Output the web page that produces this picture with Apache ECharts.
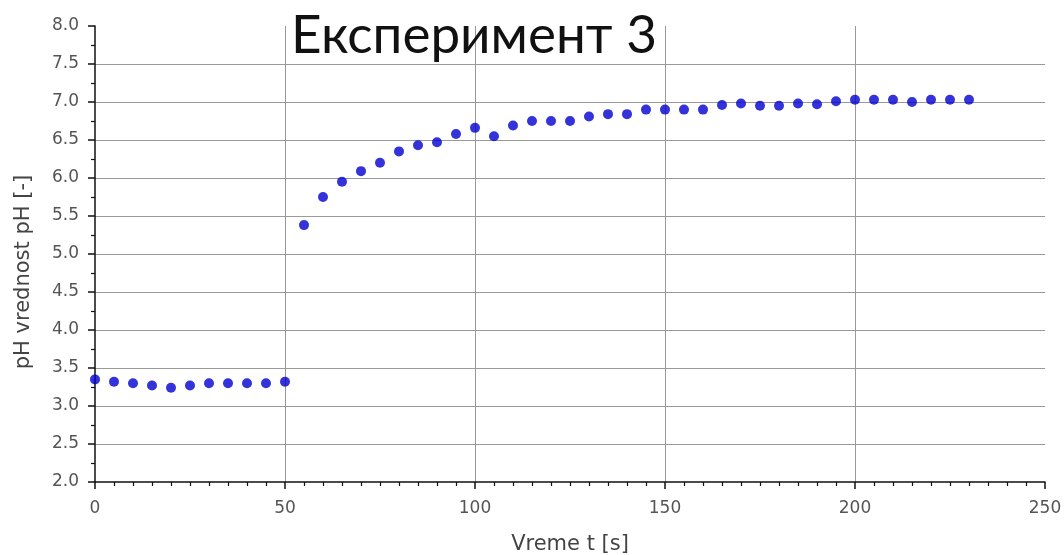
<!DOCTYPE html>
<html>
<head>
<meta charset="utf-8">
<script src="https://cdn.jsdelivr.net/npm/echarts@6/dist/echarts.min.js"></script>
<style>
html,body{margin:0;padding:0;background:#fff;}
#chart{width:1064px;height:555px;}
</style>
</head>
<body>
<div id="chart"></div>
<script>
var titleText = "Експеримент 3";
var xName = "Vreme t [s]";
var yName = "pH vrednost pH [-]";
var timeS = [0,5,10,15,20,25,30,35,40,45,50,55,60,65,70,75,80,85,90,95,100,105,110,115,120,125,130,135,140,145,150,155,160,165,170,175,180,185,190,195,200,205,210,215,220,225,230];
var phValues = [3.35,3.32,3.30,3.27,3.24,3.27,3.30,3.30,3.30,3.30,3.32,5.38,5.75,5.95,6.09,6.20,6.35,6.43,6.47,6.58,6.66,6.55,6.69,6.75,6.75,6.75,6.81,6.84,6.84,6.90,6.90,6.90,6.90,6.96,6.98,6.95,6.95,6.98,6.97,7.01,7.03,7.03,7.03,7.00,7.03,7.03,7.03];

var points = timeS.map(function(t,i){return [t, phValues[i]];});
var chart = echarts.init(document.getElementById('chart'));
chart.setOption({
  animation:false,
  backgroundColor:'#ffffff',
  title:{text:titleText,left:469,top:4,textAlign:'center',
    textStyle:{fontFamily:'Lato',fontSize:53,fontWeight:'normal',color:'#111'}},
  grid:{left:95,right:19,top:26,bottom:73,containLabel:false,outerBoundsMode:'none'},
  xAxis:{type:'value',min:0,max:250,interval:50,
    name:xName,nameLocation:'middle',nameGap:52,
    nameTextStyle:{fontFamily:'DejaVu Sans',fontSize:21,color:'#444'},
    axisLine:{show:true,onZero:false,lineStyle:{color:'#111',width:1.5}},
    axisTick:{show:true,inside:false,length:7,lineStyle:{color:'#111',width:1.5}},
    minorTick:{show:true,splitNumber:10,length:4,lineStyle:{color:'#111',width:1.2}},
    axisLabel:{fontFamily:'DejaVu Sans',fontSize:17,color:'#555',margin:18},
    splitLine:{show:true,showMinLine:false,showMaxLine:false,lineStyle:{color:'#999',width:1}}},
  yAxis:{type:'value',min:2,max:8,interval:0.5,
    name:yName,nameLocation:'middle',nameGap:61,
    nameTextStyle:{fontFamily:'DejaVu Sans',fontSize:21,color:'#444',padding:[0,36,0,0]},
    axisLine:{show:true,onZero:false,lineStyle:{color:'#111',width:1.5}},
    axisTick:{show:true,inside:false,length:7,lineStyle:{color:'#111',width:1.5}},
    minorTick:{show:true,splitNumber:2,length:4,lineStyle:{color:'#111',width:1.2}},
    axisLabel:{fontFamily:'DejaVu Sans',fontSize:17,color:'#555',margin:16,
      formatter:function(v){return v.toFixed(1);}},
    splitLine:{show:true,showMinLine:false,showMaxLine:false,lineStyle:{color:'#999',width:1}}},
  series:[{type:'scatter',data:points,symbol:'circle',symbolSize:10,
    itemStyle:{color:'#0000d0'}}]
});
</script>
</body>
</html>
